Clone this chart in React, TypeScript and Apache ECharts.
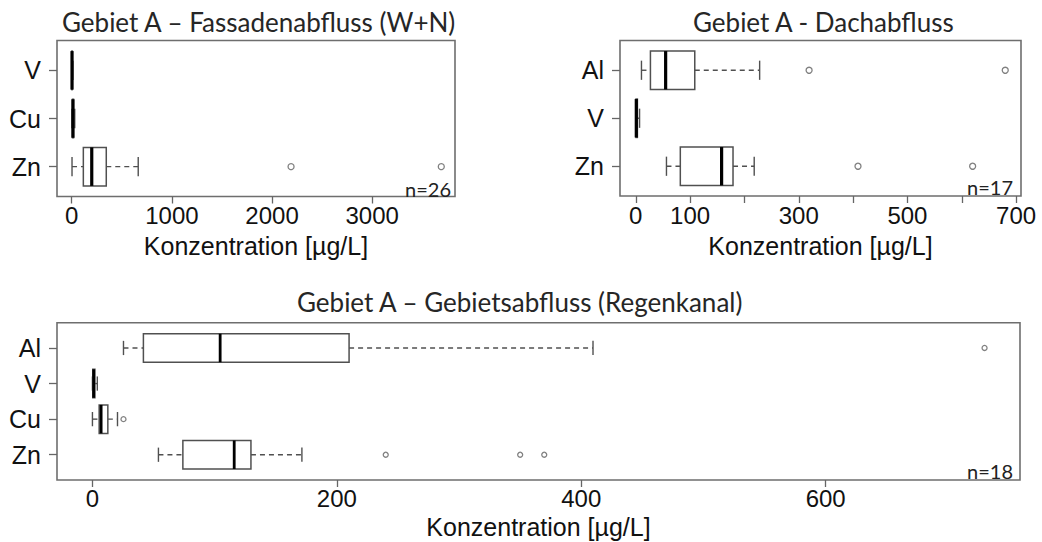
import React, { useEffect, useRef } from 'react';
import * as echarts from 'echarts';

// ---------- Gebiet A – Fassadenabfluss (W+N) ----------
const fassCategories = ['Zn', 'Cu', 'V'];
const fassLow = [3, 2, 0];
const fassQ1 = [116, 8, 1];
const fassMedian = [200, 12, 3];
const fassQ3 = [345, 18, 6];
const fassHigh = [664, 30, 12];
const fassOutlierCat = ['Zn', 'Zn'];
const fassOutlierVal = [2190, 3690];
const fassTicks = [0, 1000, 2000, 3000];
const fassTickLabels = [0, 1000, 2000, 3000];
const fassN = 'n=26';

// ---------- Gebiet A - Dachabfluss ----------
const dachCategories = ['Zn', 'V', 'Al'];
const dachLow = [56.5, 0, 10.5];
const dachQ1 = [82, 0.5, 27];
const dachMedian = [158, 1, 55];
const dachQ3 = [179, 3, 108.6];
const dachHigh = [218, 7, 228];
const dachOutlierCat = ['Zn', 'Zn', 'Al', 'Al'];
const dachOutlierVal = [409, 620, 319, 680];
const dachTicks = [0, 100, 200, 300, 400, 500, 600, 700];
const dachTickLabels = [0, 100, 300, 500, 700];
const dachN = 'n=17';

// ---------- Gebiet A – Gebietsabfluss (Regenkanal) ----------
const gebCategories = ['Zn', 'Cu', 'V', 'Al'];
const gebLow = [54, 0, 0, 25.4];
const gebQ1 = [74, 5.5, 0.3, 41.7];
const gebMedian = [116, 7.1, 1, 104.5];
const gebQ3 = [129.7, 12.6, 2, 210];
const gebHigh = [171.4, 20.5, 4, 409.6];
const gebOutlierCat = ['Zn', 'Zn', 'Zn', 'Cu', 'Al'];
const gebOutlierVal = [240, 350, 369.7, 25.4, 730];
const gebTicks = [0, 200, 400, 600];
const gebTickLabels = [0, 200, 400, 600];
const gebN = 'n=18';

const titles = [
  'Gebiet A – Fassadenabfluss (W+N)',
  'Gebiet A - Dachabfluss',
  'Gebiet A – Gebietsabfluss (Regenkanal)',
];
const axisName = 'Konzentration [µg/L]';

const SANS = '"Liberation Sans", Arial, sans-serif';
const CAL = 'Lato, "Open Sans", sans-serif';
const GREY = '#505050';

function boxData(cats: string[], lo: number[], q1: number[], md: number[], q3: number[], hi: number[]) {
  return cats.map((_, i) => [i, lo[i], q1[i], md[i], q3[i], hi[i]]);
}
function outlierData(cats: string[], oc: string[], ov: number[]) {
  return ov.map((v, i) => [v, cats.indexOf(oc[i])]);
}

function makeRender(medianWidth: number) {
  return (params: any, api: any) => {
    const cat = api.value(0);
    const pLo = api.coord([api.value(1), cat]);
    const pQ1 = api.coord([api.value(2), cat]);
    const pMd = api.coord([api.value(3), cat]);
    const pQ3 = api.coord([api.value(4), cat]);
    const pHi = api.coord([api.value(5), cat]);
    const unit = Math.abs(api.size([0, 1])[1]);
    const hb = unit * 0.4;
    const hc = unit * 0.2;
    const y = pMd[1];
    return {
      type: 'group',
      children: [
        { type: 'line', shape: { x1: pLo[0], y1: y, x2: pQ1[0], y2: y }, style: { stroke: GREY, lineWidth: 1.4, lineDash: [5, 4] } },
        { type: 'line', shape: { x1: pQ3[0], y1: y, x2: pHi[0], y2: y }, style: { stroke: GREY, lineWidth: 1.4, lineDash: [5, 4] } },
        { type: 'line', shape: { x1: pLo[0], y1: y - hc, x2: pLo[0], y2: y + hc }, style: { stroke: GREY, lineWidth: 1.4 } },
        { type: 'line', shape: { x1: pHi[0], y1: y - hc, x2: pHi[0], y2: y + hc }, style: { stroke: GREY, lineWidth: 1.4 } },
        { type: 'rect', shape: { x: pQ1[0], y: y - hb, width: Math.max(pQ3[0] - pQ1[0], 0.5), height: 2 * hb }, style: { fill: '#fff', stroke: GREY, lineWidth: 1.5 } },
        { type: 'line', shape: { x1: pMd[0], y1: y - hb, x2: pMd[0], y2: y + hb }, style: { stroke: '#000', lineWidth: medianWidth } },
      ],
    };
  };
}

function xAxisCfg(gridIndex: number, min: number, max: number, ticks: number[], labels: number[], nameGap: number, margin: number) {
  return {
    gridIndex,
    type: 'value',
    position: 'bottom',
    min,
    max,
    axisLine: { show: false, onZero: false },
    splitLine: { show: false },
    axisTick: { show: true, length: 7, customValues: ticks, lineStyle: { color: '#666', width: 1.3 } },
    axisLabel: {
      customValues: labels,
      formatter: (v: number) => String(v),
      fontSize: 24,
      fontFamily: SANS,
      color: '#111',
      margin,
    },
    name: axisName,
    nameLocation: 'middle',
    nameGap,
    nameTextStyle: { fontSize: 25, fontFamily: SANS, color: '#111' },
  };
}

function yAxisCfg(gridIndex: number, cats: string[], min: number, max: number) {
  const idx = cats.map((_, i) => i);
  return {
    gridIndex,
    type: 'value',
    position: 'left',
    min,
    max,
    axisLine: { show: false, onZero: false },
    splitLine: { show: false },
    axisTick: { show: true, length: 8, customValues: idx, lineStyle: { color: '#666', width: 1.3 } },
    axisLabel: {
      customValues: idx,
      formatter: (v: number) => cats[Math.round(v)] ?? '',
      fontSize: 25,
      fontFamily: SANS,
      color: '#111',
      margin: 16,
    },
  };
}

const gridStyle = { show: true, borderColor: '#6e6e6e', borderWidth: 1.6, backgroundColor: 'transparent' };

export default function App() {
  const ref = useRef<HTMLDivElement>(null);
  useEffect(() => {
    if (!ref.current) return;
    const chart = echarts.init(ref.current, undefined, { renderer: 'svg' });
    const scatterStyle = (size: number) => ({
      type: 'scatter',
      symbol: 'circle',
      symbolSize: size,
      itemStyle: { color: '#fff', borderColor: '#606060', borderWidth: 1.3 },
      z: 5,
    });
    chart.setOption({
      animation: false,
      backgroundColor: '#fff',
      title: [
        { text: titles[0], left: 62, top: 9, padding: 0, textStyle: { fontFamily: CAL, fontSize: 26, fontWeight: 'normal', color: '#262626' } },
        { text: titles[1], left: 693, top: 9, padding: 0, textStyle: { fontFamily: CAL, fontSize: 26, fontWeight: 'normal', color: '#262626' } },
        { text: titles[2], left: 297, top: 289, padding: 0, textStyle: { fontFamily: CAL, fontSize: 26, fontWeight: 'normal', color: '#262626' } },
      ],
      grid: [
        { left: 57, top: 40.5, width: 398, height: 156, ...gridStyle },
        { left: 620, top: 40.5, width: 401, height: 155.5, ...gridStyle },
        { left: 57, top: 322.7, width: 963, height: 157.3, ...gridStyle },
      ],
      xAxis: [
        xAxisCfg(0, -147, 3827, fassTicks, fassTickLabels, 37, 7),
        xAxisCfg(1, -29, 709, dachTicks, dachTickLabels, 37, 7),
        xAxisCfg(2, -29, 759, gebTicks, gebTickLabels, 34, 6),
      ],
      yAxis: [
        yAxisCfg(0, fassCategories, -0.62, 2.62),
        yAxisCfg(1, dachCategories, -0.62, 2.62),
        yAxisCfg(2, gebCategories, -0.71, 3.71),
      ],
      graphic: [
        { type: 'text', x: 451, y: 199, style: { text: fassN, align: 'right', verticalAlign: 'bottom', fontSize: 20, fontFamily: CAL, fill: '#222' } },
        { type: 'text', x: 1013, y: 197, style: { text: dachN, align: 'right', verticalAlign: 'bottom', fontSize: 20, fontFamily: CAL, fill: '#222' } },
        { type: 'text', x: 1013, y: 481, style: { text: gebN, align: 'right', verticalAlign: 'bottom', fontSize: 20, fontFamily: CAL, fill: '#222' } },
      ],
      series: [
        {
          type: 'custom', xAxisIndex: 0, yAxisIndex: 0,
          renderItem: makeRender(3.2),
          encode: { x: [1, 2, 3, 4, 5], y: 0 },
          data: boxData(fassCategories, fassLow, fassQ1, fassMedian, fassQ3, fassHigh),
        },
        { ...scatterStyle(6), xAxisIndex: 0, yAxisIndex: 0, data: outlierData(fassCategories, fassOutlierCat, fassOutlierVal) },
        {
          type: 'custom', xAxisIndex: 1, yAxisIndex: 1,
          renderItem: makeRender(3.2),
          encode: { x: [1, 2, 3, 4, 5], y: 0 },
          data: boxData(dachCategories, dachLow, dachQ1, dachMedian, dachQ3, dachHigh),
        },
        { ...scatterStyle(6), xAxisIndex: 1, yAxisIndex: 1, data: outlierData(dachCategories, dachOutlierCat, dachOutlierVal) },
        {
          type: 'custom', xAxisIndex: 2, yAxisIndex: 2,
          renderItem: makeRender(2.8),
          encode: { x: [1, 2, 3, 4, 5], y: 0 },
          data: boxData(gebCategories, gebLow, gebQ1, gebMedian, gebQ3, gebHigh),
        },
        { ...scatterStyle(5), xAxisIndex: 2, yAxisIndex: 2, data: outlierData(gebCategories, gebOutlierCat, gebOutlierVal) },
      ],
    });
    return () => chart.dispose();
  }, []);
  return <div ref={ref} style={{ position: 'fixed', left: 0, top: 0, width: 1042, height: 542 }} />;
}
